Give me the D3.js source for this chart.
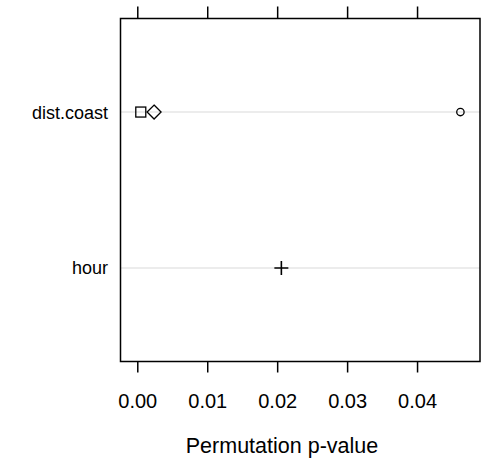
<!DOCTYPE html>
<html><head><meta charset="utf-8">
<script src="https://cdn.jsdelivr.net/npm/d3@7"></script>
<style>body{margin:0;background:#fff}svg{display:block}text{font-family:"Liberation Sans",Arial,sans-serif}</style>
</head><body><svg id="c" width="481" height="461"></svg>
<script>
const categories = ["hour", "dist.coast"];
const xTicks = [0, 0.01, 0.02, 0.03, 0.04];
const xTickLabels = ["0.00", "0.01", "0.02", "0.03", "0.04"];
const squareCats = ["dist.coast"], squareVals = [0.0005];
const diamondCats = ["dist.coast"], diamondVals = [0.0024];
const circleCats = ["dist.coast"], circleVals = [0.0462];
const plusCats = ["hour"], plusVals = [0.0206];
const xTitle = "Permutation p-value";

(function () {
const svg = d3.select("#c");
const L = 120.5, R = 480, T = 18.5, B = 361.5;
const x = d3.scaleLinear().domain([-0.0024, 0.049]).range([L, R]);
const y = d3.scaleLinear().domain([0.4, 2.6]).range([B, T]);
const yc = c => y(categories.indexOf(c) + 1);

// grid lines
svg.append("g").selectAll("line").data(categories).join("line")
  .attr("x1", L).attr("x2", R).attr("y1", yc).attr("y2", yc)
  .attr("stroke", "#e6e6e6").attr("stroke-width", 1.5);

// axes
const bottomAxis = d3.axisBottom(x).tickValues(xTicks).tickFormat((d,i)=>xTickLabels[i]).tickSize(11).tickSizeOuter(0);
const gb = svg.append("g").attr("transform", `translate(0,${B})`).call(bottomAxis);
gb.select(".domain").remove();
gb.selectAll("line").attr("stroke", "#000").attr("stroke-width", 1.5);
gb.selectAll("text").attr("font-size", 20).attr("fill", "#000").attr("y", 46).attr("dy", null);
const topAxis = d3.axisTop(x).tickValues(xTicks).tickFormat("").tickSize(12).tickSizeOuter(0);
const gt = svg.append("g").attr("transform", `translate(0,${T})`).call(topAxis);
gt.select(".domain").remove();
gt.selectAll("line").attr("stroke", "#000").attr("stroke-width", 1.5);

// y labels
svg.append("g").selectAll("text").data(categories).join("text")
  .attr("x", 108).attr("y", yc).attr("dy", "0.36em").attr("text-anchor", "end")
  .attr("font-size", 18).text(d => d);

// frame
svg.append("rect").attr("x", L).attr("y", T).attr("width", R - L).attr("height", B - T)
  .attr("fill", "none").attr("stroke", "#000").attr("stroke-width", 1.5);

const g = svg.append("g").attr("fill", "none").attr("stroke", "#000").attr("stroke-width", 1.3);
g.selectAll(".sq").data(squareVals).join("rect")
  .attr("x", d => x(d) - 5).attr("y", (d,i) => yc(squareCats[i]) - 5).attr("width", 10).attr("height", 10);
g.selectAll(".di").data(diamondVals).join("path")
  .attr("d", (d,i) => `M${x(d)},${yc(diamondCats[i])-7}l7,7l-7,7l-7,-7z`);
g.selectAll(".ci").data(circleVals).join("circle")
  .attr("cx", d => x(d)).attr("cy", (d,i) => yc(circleCats[i])).attr("r", 3.7);
g.selectAll(".pl").data(plusVals).join("path")
  .attr("d", (d,i) => `M${x(d)-7},${yc(plusCats[i])}h14M${x(d)},${yc(plusCats[i])-7}v14`).attr("stroke-width", 1.6);

svg.append("text").attr("x", 282).attr("y", 453).attr("text-anchor", "middle")
  .attr("font-size", 21.5).text(xTitle);
})();
</script></body></html>
